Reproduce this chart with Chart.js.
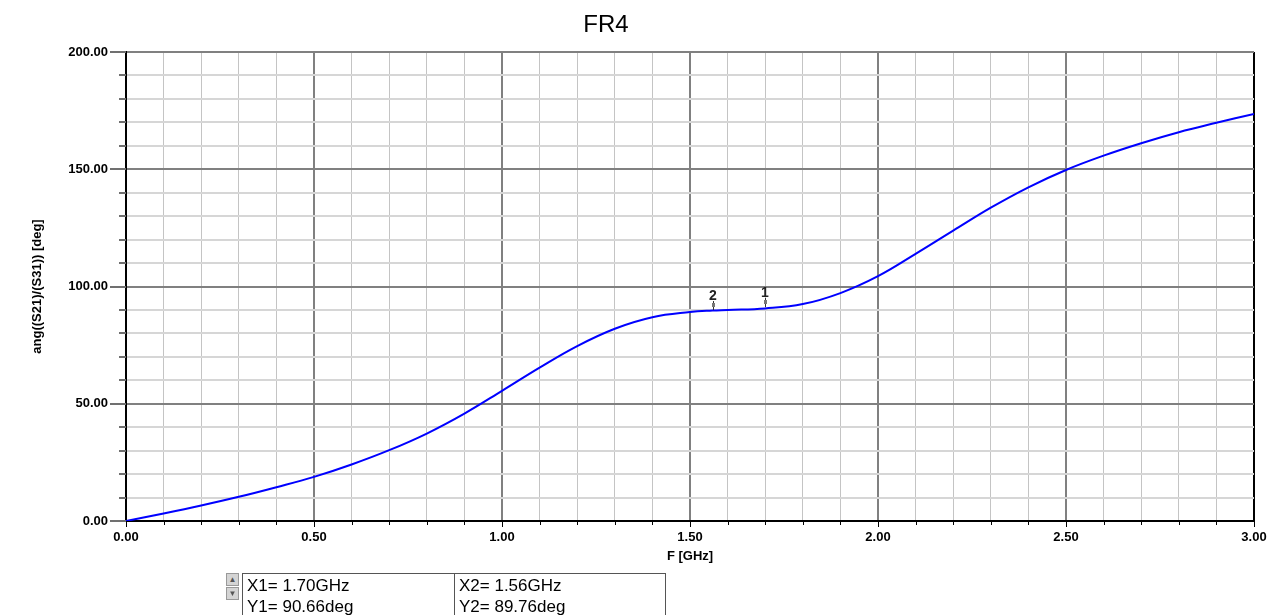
<!DOCTYPE html>
<html>
<head>
<meta charset="utf-8">
<script src="https://cdn.jsdelivr.net/npm/chart.js@4.4.1/dist/chart.umd.min.js"></script>
<style>
  body { margin: 0; background: #fff; }
  #wrap { position: relative; width: 1275px; height: 615px; overflow: hidden; }
  #markerTable { position: absolute; left: 226px; top: 573px; font: 17px "Liberation Sans", Arial, sans-serif; color: #000; }
  .btn { position: absolute; left: 0; width: 13px; height: 13px; background: #d4d4d4; border: 1px solid #999; box-sizing: border-box; font-size: 8px; line-height: 11px; text-align: center; color: #555; }
  .cell { position: absolute; top: 0; height: 50px; border: 1px solid #555; box-sizing: border-box; padding: 1px 0 0 4px; line-height: 21px; white-space: nowrap; }
</style>
</head>
<body>
<div id="wrap">
  <canvas id="myChart" width="1275" height="615"></canvas>
  <div id="markerTable">
    <div class="btn" style="top:0">&#9650;</div>
    <div class="btn" style="top:14px">&#9660;</div>
  </div>
</div>
<script>
/* FR4 phase plot */

  const freqGHz = [0, 0.1, 0.2, 0.3, 0.4, 0.5, 0.6, 0.7, 0.8, 0.9, 1.0,
    1.1, 1.2, 1.3, 1.4, 1.5, 1.56, 1.6, 1.7, 1.8, 1.9, 2.0,
    2.1, 2.2, 2.3, 2.4, 2.5, 2.6, 2.7, 2.8, 2.9, 3.0];
  const phaseDeg = [0, 3.2, 6.6, 10.3, 14.4, 18.8, 24.1, 30.2, 37.3, 45.8, 55.5,
    65.4, 74.6, 82.0, 86.9, 89.1, 89.76, 90.0, 90.66, 92.5, 97.2, 104.4,
    113.9, 123.8, 133.6, 142.3, 149.7, 155.8, 161.1, 165.8, 169.8, 173.6];

  const markerNames = ['1', '2'];
  const markerX = [1.70, 1.56];
  const markerY = [90.66, 89.76];

  const xTickStep = 0.1;
  const xLabelStep = 0.5;
  const yTickStep = 10;
  const yLabelStep = 50;

  // marker readout table
  const table = document.getElementById('markerTable');
  const cellLeft = [16, 228];
  const cellWidth = [213, 212];
  markerNames.forEach((n, i) => {
    const d = document.createElement('div');
    d.className = 'cell';
    d.style.left = cellLeft[i] + 'px';
    d.style.width = cellWidth[i] + 'px';
    d.innerHTML = 'X' + n + '= ' + markerX[i].toFixed(2) + 'GHz<br>Y' + n + '= ' + markerY[i].toFixed(2) + 'deg';
    table.appendChild(d);
  });

  const isMajor = (v, step) => Math.abs(v / step - Math.round(v / step)) < 1e-6;
  const font = 'Liberation Sans, Arial, sans-serif';

  const fixedLayout = {
    id: 'fixedLayout',
    afterDraw(chart) {
      const c = chart.ctx;
      const xs = chart.scales.x, ys = chart.scales.y;
      const area = chart.chartArea;
      c.save();
      // title
      c.fillStyle = '#000';
      c.font = '24px ' + font;
      c.textAlign = 'center';
      c.textBaseline = 'middle';
      c.fillText('FR4', 606, 25);
      // tick marks
      c.strokeStyle = '#707070';
      c.lineWidth = 2;
      ys.ticks.forEach(t => {
        const py = Math.round(ys.getPixelForValue(t.value));
        const len = isMajor(t.value, yLabelStep) ? 16 : 7;
        c.beginPath();
        c.moveTo(area.left - len, py);
        c.lineTo(area.left, py);
        c.stroke();
      });
      c.strokeStyle = '#000';
      c.lineWidth = 1;
      xs.ticks.forEach(t => {
        const px = Math.round(xs.getPixelForValue(t.value)) + 0.5;
        const len = isMajor(t.value, xLabelStep) ? 6 : 4;
        c.beginPath();
        c.moveTo(px, area.bottom);
        c.lineTo(px, area.bottom + len);
        c.stroke();
      });
      // markers
      c.font = 'bold 14px ' + font;
      c.textBaseline = 'alphabetic';
      markerNames.forEach((n, i) => {
        const px = Math.round(xs.getPixelForValue(markerX[i]));
        const py = Math.round(ys.getPixelForValue(markerY[i]));
        c.strokeStyle = '#333';
        c.lineWidth = 1;
        c.beginPath();
        c.moveTo(px + 0.5, py - 1);
        c.lineTo(px + 0.5, py - 10);
        c.stroke();
        c.fillStyle = '#777';
        c.fillRect(px - 1, py - 8, 3, 4);
        c.fillStyle = '#222';
        c.fillText(n, px, py - 11);
      });
      c.restore();
    }
  };

  const ctx = document.getElementById('myChart').getContext('2d');
  const myChart = new Chart(ctx, {
    type: 'line',
    data: {
      datasets: [{
        label: 'ang((S21)/(S31))',
        data: freqGHz.map((f, i) => ({ x: f, y: phaseDeg[i] })),
        borderColor: '#0000ff',
        borderWidth: 2,
        pointRadius: 0,
        tension: 0.4,
        fill: false
      }]
    },
    plugins: [fixedLayout],
    options: {
      responsive: false,
      animation: false,
      layout: { padding: { top: 52, right: 21, left: 0, bottom: 0 } },
      plugins: {
        legend: { display: false },
        tooltip: { enabled: false },
        title: { display: false }
      },
      scales: {
        x: {
          type: 'linear',
          min: 0,
          max: 3,
          afterFit(s) { s.height = 94; s.paddingLeft = 0; s.paddingRight = 0; },
          ticks: {
            stepSize: xTickStep,
            autoSkip: false,
            maxRotation: 0,
            padding: 9,
            color: '#000',
            font: { family: font, size: 13, weight: 'bold' },
            callback: v => isMajor(v, xLabelStep) ? v.toFixed(2) : ''
          },
          grid: {
            drawTicks: false,
            color: c => c.tick.value >= 3 - 1e-6 ? '#000' : (isMajor(c.tick.value, xLabelStep) ? '#808080' : '#c4c4c4'),
            lineWidth: c => isMajor(c.tick.value, xLabelStep) ? 2 : 1
          },
          border: { color: '#000', width: 2 },
          title: {
            display: true,
            text: 'F [GHz]',
            color: '#000',
            font: { family: font, size: 13, weight: 'bold' },
            padding: { top: 0, bottom: 51 }
          }
        },
        y: {
          min: 0,
          max: 200,
          afterFit(s) { s.width = 126; s.paddingTop = 0; s.paddingBottom = 0; },
          ticks: {
            stepSize: yTickStep,
            autoSkip: false,
            padding: 18,
            color: '#000',
            font: { family: font, size: 13, weight: 'bold' },
            callback: v => isMajor(v, yLabelStep) ? v.toFixed(2) : ''
          },
          grid: {
            drawTicks: false,
            color: c => isMajor(c.tick.value, yLabelStep) ? '#808080' : '#d6d6d6',
            lineWidth: 2
          },
          border: { color: '#000', width: 2 },
          title: {
            display: true,
            text: 'ang((S21)/(S31)) [deg]',
            color: '#000',
            font: { family: font, size: 13, weight: 'bold' },
            padding: { top: 30, bottom: 0 }
          }
        }
      }
    }
  });
</script>
</body>
</html>
